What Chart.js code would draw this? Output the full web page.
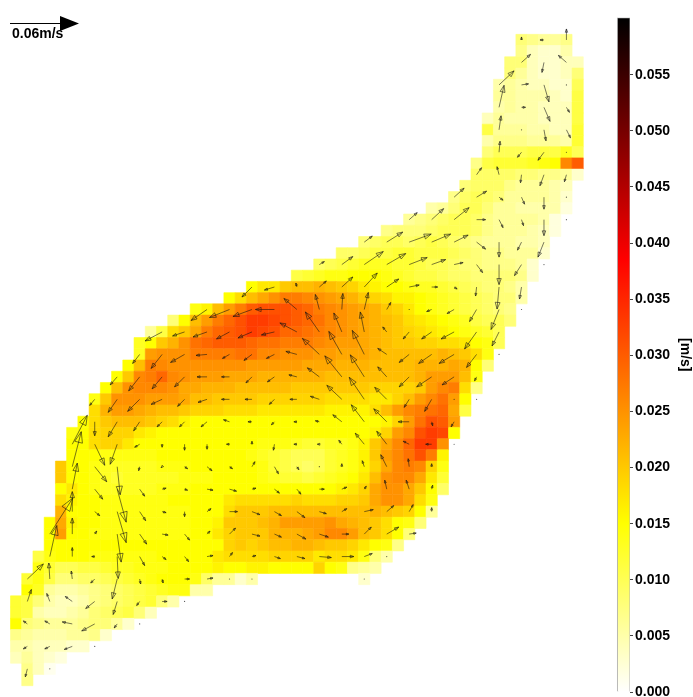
<!DOCTYPE html>
<html>
<head>
<meta charset="utf-8">
<title>Velocity field</title>
<script src="https://cdn.jsdelivr.net/npm/chart.js@4/dist/chart.umd.min.js"></script>
<style>
html, body { margin: 0; padding: 0; background: #fff; overflow: hidden; }
canvas { display: block; }
</style>
</head>
<body>
<canvas id="chart" width="693" height="697"></canvas>
<script>
// speed per grid cell in 0.001 m/s, rows listed top to bottom, null = no cell
let rowStart = [45,45,44,44,43,43,43,42,42,42,42,41,41,40,39,37,35,33,31,29,27,25,21,19,16,14,12,11,11,10,9,8,7,7,6,5,5,5,4,4,4,4,4,3,3,3,2,2,1,1,0,0,0,0,0,0,1,1]
let rowValues = [
    [8,7,6,6,7],
    [7,4,3,3,5],
    [8,8,4,3,3,4,4],
    [8,6,4,3,3,4,8],
    [5,6,5,4,4,3,3,10],
    [6,6,5,5,5,4,3,11],
    [5,6,5,5,4,4,4,11],
    [4,6,5,5,5,4,4,4,11],
    [11,6,6,6,5,5,4,4,12],
    [5,7,7,7,6,6,6,5,12],
    [8,10,10,10,11,11,11,13,10],
    [7,11,12,12,12,13,14,15,26,30],
    [9,9,9,9,8,8,7,7,6,3],
    [8,9,9,9,7,6,6,6,5,4],
    [7,9,10,9,8,6,6,6,6,5,3],
    [5,6,8,10,10,8,6,6,5,5,5,5,2],
    [6,7,8,9,10,10,9,7,6,6,6,6,5,2],
    [7,8,8,8,9,10,10,10,9,7,6,6,6,5,4,2],
    [8,9,10,10,9,10,11,10,9,8,7,6,6,6,5,5,4],
    [9,9,10,11,11,12,12,11,11,11,10,9,8,7,7,6,6,6,3],
    [9,10,11,12,13,13,13,12,12,11,10,10,9,8,8,7,7,7,6,3],
    [11,12,13,14,14,15,15,15,14,13,12,11,11,10,9,9,8,8,8,8,7,3],
    [15,17,17,20,21,21,22,21,20,19,17,16,15,15,14,13,13,12,11,10,9,8,8,7,5],
    [15,18,21,23,25,27,27,26,25,24,23,22,20,19,18,16,16,15,14,13,12,11,10,9,8,8,5],
    [14,16,21,24,27,30,31,31,31,30,29,27,26,25,24,23,22,20,19,17,15,14,13,12,11,10,9,8,7],
    [8,15,21,24,27,29,31,33,33,32,31,30,29,28,26,25,24,23,22,21,20,18,17,16,15,14,13,11,10,10,8],
    [6,11,18,20,23,27,29,30,31,33,32,31,29,29,28,27,26,25,24,23,22,21,20,19,18,17,16,15,14,13,12,10],
    [13,15,20,22,25,28,29,30,30,30,29,28,28,27,27,27,26,25,24,24,23,22,21,20,20,19,19,18,18,17,15,14,10],
    [13,24,25,25,25,27,27,27,27,28,28,26,26,25,25,25,24,24,23,23,23,22,21,21,21,21,21,22,21,20,18,14],
    [15,21,27,26,25,25,25,25,25,25,25,24,24,24,24,24,23,23,23,22,22,22,21,21,21,21,22,22,22,23,22,15,8],
    [15,20,26,27,29,26,25,24,24,24,23,23,23,22,22,22,22,22,22,21,21,21,21,21,21,21,21,22,24,24,24,21,14],
    [15,21,25,26,26,26,25,23,23,22,22,22,21,21,21,21,21,20,20,20,20,20,20,20,19,19,19,19,20,24,26,27,18,7],
    [14,20,25,25,25,24,24,24,23,21,21,20,20,20,20,19,19,19,19,19,19,18,18,18,18,17,17,19,21,24,26,28,24,15],
    [18,22,24,24,23,22,21,21,20,19,19,19,18,18,18,17,17,17,17,17,17,16,16,16,16,18,21,24,26,27,28,29,23,11],
    [15,18,20,21,21,21,20,19,18,16,15,15,15,15,15,15,15,15,15,15,15,15,15,15,15,15,15,16,19,24,28,31,30,24],
    [14,15,18,19,19,19,17,16,15,15,15,15,15,15,15,15,15,15,15,15,15,15,15,15,15,15,15,16,19,24,26,31,33,32,15],
    [15,15,18,19,19,17,15,15,15,15,15,15,15,15,15,15,15,14,14,14,13,12,12,13,13,14,16,20,23,26,29,33,33,25],
    [15,15,15,14,14,14,14,14,15,15,15,15,15,15,15,15,14,13,12,11,10,10,10,12,13,14,16,20,24,26,28,31,27,16],
    [20,15,15,14,13,13,13,13,13,14,14,14,15,15,15,15,15,15,14,12,11,10,9,10,12,13,14,16,19,23,26,27,26,19,14],
    [20,15,15,14,13,12,13,13,13,13,13,14,14,14,15,15,15,15,14,13,12,12,11,12,13,14,15,17,21,25,26,26,23,17,12],
    [15,17,15,14,13,13,13,13,13,14,14,14,15,15,15,15,15,15,15,15,15,15,15,15,15,16,17,19,23,25,25,23,20,15,9],
    [18,16,15,15,14,14,14,14,14,14,15,15,15,15,15,17,18,18,18,18,18,19,18,18,18,19,19,20,23,25,25,23,18,14],
    [22,15,15,15,14,14,14,14,14,14,14,14,15,15,15,18,20,20,20,21,21,21,21,21,21,21,21,21,22,21,20,19,15,6],
    [15,23,16,15,15,14,14,14,14,14,14,14,14,15,15,16,20,20,20,21,22,24,24,24,24,25,23,22,21,20,18,15,14,8],
    [15,24,15,15,14,14,14,14,14,14,14,14,14,15,15,17,19,20,20,20,22,22,22,23,24,26,26,24,21,20,18,15,8],
    [15,15,15,15,15,15,15,15,15,15,15,15,15,15,15,15,19,20,19,20,21,21,22,22,21,20,20,19,17,15,14,7],
    [11,14,15,15,15,14,14,14,14,14,14,15,15,15,15,15,17,18,18,18,18,19,19,19,19,17,18,18,17,14,8,5],
    [14,12,10,10,11,11,12,13,13,14,14,14,15,15,15,15,16,15,15,16,16,15,15,15,15,19,15,14,7,6,5],
    [12,14,11,8,8,9,9,10,11,12,13,14,15,15,15,14,9,6,6,3,5,null,null,null,null,null,null,null,null,null,3],
    [15,13,6,5,5,6,7,8,9,10,11,12,13,14,14,5,5],
    [12,11,8,5,4,4,5,7,8,9,10,11,12,8,5],
    [12,11,5,4,4,5,6,8,9,10,11,8,4],
    [15,8,7,6,6,6,7,8,8,6,3],
    [7,6,5,5,5,6,6,7,3],
    [5,5,4,4,4,3,3],
    [4,6,4,3,2],
    [7,4,1],
    [7]
]

// arrows: first node row, first node column, then [u, v] per node
// one unit is 1/1150 m/s, v points down the picture, null = no arrow
let arrowNodeRows = [0,1,2,3,4,5,6,7,8,9,10,11,12,13,14,15,16,17,18,19,20,21,22,23,24,25,26,27,28]
let arrowFirstCol = [0,0,0,0,0,1,1,2,2,2,2,3,3,4,5,6,8,10,13,15,17,19,20,21,21,21,21,22,22]
let arrowVectors = [
    [[-2,8],[0,0]],
    [[-4,2.5],[-5,2.5],[-8,3],[0,0]],
    [[-4,-3],[-5,-3],[-10,-2],[-13,7],[-3,4],[0,0]],
    [[4,-12],[-3,-8],[-7,-5],[-9,7],[-4,13],[-3,4],[5,0],[0,0]],
    [[16,-15],[-1,-16],[-1,-8],[-4,4],[-5,20],[1,5],[1,4],[5,0],[6,-1],[0,0],[0,0],null,null,null,null,[0,0]],
    [[7,-31],[0,-9],[-3,0],[1,22],[5,9],[4,3],[4,5],[6,-1],[3,-4],[4,-1],[6,2],[8,2],[12,1],[12,0],[8,-3],[0,0]],
    [[23,-36],[0,-16],[2,-3],[4,28],[7,10],[6,1],[5,6],[3,-3],[6,-6],[8,2],[7,3],[9,5],[9,3],[7,0],[7,-7],[12,-7],[7,-1]],
    [[0,-20],[5,4],[9,31],[6,9],[4,1],[0,5],[4,-3],[8,0],[8,3],[7,4],[8,6],[7,2],[5,-3],[9,-2],[7,-6],[4,-7],[0,-4]],
    [[5,-26],[8,10],[9,33],[5,7],[4,-1],[3,1],[6,1],[7,2],[4,-1],[5,4],[4,5],[5,0],[5,-2],[2,-3],[-2,-9],[-3,-9],[1,-4]],
    [[9,-35],[12,15],[3,28],[-1,4],[-1,1],[3,2],[5,4],[3,2],[3,-5],[4,7],[2,3],[0,0],[0,-3],[-2,-6],[-6,-12],[-1,-8],[0,-3]],
    [[15,-29],[10,21],[-7,20],[-5,3],[0,3],[0,6],[0,5],[-3,0],[0,-3],[-1,6],[-3,0],[-2,0],[-3,-4],[-9,-11],[-10,-13],[-6,-3],[-6,0],[0,0]],
    [[0,14],[-9,15],[-6,9],[-5,5],[-5,5],[-6,5],[-6,-2],[-4,0],[-3,3],[-3,0],[-4,-1],[-9,-7],[-13,-17],[-13,-13],[-11,0],[1,4],[-3,5]],
    [[-5,6],[-9,13],[-12,12],[-11,5],[-7,7],[-9,3],[-8,0],[-7,0],[-5,5],[-7,0],[-9,-3],[-15,-14],[-15,-22],[-12,-12],[-5,8],[-7,12],[0,0],[0,0]],
    [[-7,8],[-11,14],[-10,12],[-10,10],[-10,0],[-8,0],[-6,6],[-7,5],[-8,-2],[-12,-9],[-17,-21],[-14,-22],[-9,-10],[-10,10],[-15,10],[-12,8],[-2,4]],
    [[-7,9],[-11,14],[-14,8],[-11,1],[-7,4],[-8,6],[-8,4],[-11,-3],[-17,-16],[-13,-23],[-12,-24],[-9,-6],[-10,8],[-13,9],[-15,9],[-10,13],[0,0]],
    [[-17,9],[-12,4],[-14,5],[-13,7],[-14,6],[-13,3],[-17,-9],[-14,-20],[-8,-19],[-4,-20],[-4,-5],[-6,7],[-10,7],[-13,7],[-12,17],[-7,14]],
    [[-16,11],[-20,8],[-19,7],[-19,0],[-13,-11],[-4,-15],[1,-16],[4,-17],[4,-7],[0,0],[-5,2],[-7,4],[-7,12],[-8,20],[0,0]],
    [[-10,10],[-10,3],[-1,-4],[7,-6],[11,-10],[13,-14],[12,-8],[10,-2],[6,0],[3,2],[-1,9],[-2,22],[-2,12]],
    [[5,-3],[11,-8],[19,-13],[19,-11],[18,-7],[14,-5],[9,-2],[6,8],[0,20],[-7,11],[0,0]],
    [[8,-6],[16,-10],[22,-8],[19,-8],[14,-7],[9,7],[0,15],[-4,8],[-6,15]],
    [[8,-7],[12,-11],[15,-12],[9,0],[4,8],[2,6],[0,16],[0,0]],
    [[10,-9],[10,-6],[4,3],[3,7],[0,12],[0,0]],
    [[5,-7],[-2,-8],[-1,8],[-4,11],[-2,7]],
    [[1,-11],[-4,5],[-6,8],[0,0]],
    [[2,-14],[0,0],[2,11],[4,8]],
    [[5,-22],[4,0],[6,14],[3,5]],
    [[15,-14],[7,-1],[5,17],[0,0]],
    [[9,-8],[-2,10],[-8,-7]],
    [[0,-3],[-4,0],[0,-11]]
]

let colorStops = [0, 0.015, 0.0385, 0.06]
let colorNames = ['#ffffff', '#ffff00', '#ff0000', '#000000']
let colorRgb = [[255,255,255], [255,255,0], [255,0,0], [0,0,0]]
let barTicks = [0, 0.005, 0.01, 0.015, 0.02, 0.025, 0.03, 0.035, 0.04, 0.045, 0.05, 0.055]
let barTop = 0.0601
let barColumn = 54.1
let keyValue = 0.06
let keyLabel = '0.06m/s'
let unitsPerMs = 1150

function speedColor(v) {
    let i = 0
    while (i < colorStops.length - 2 && v > colorStops[i + 1]) i++
    let t = (v - colorStops[i]) / (colorStops[i + 1] - colorStops[i])
    let c = colorRgb[i].map((a, k) => Math.round(a + (colorRgb[i + 1][k] - a) * t))
    return 'rgb(' + c.join(',') + ')'
}

let cells = []
rowValues.forEach((vals, idx) => {
    vals.forEach((v, k) => {
        if (v !== null) cells.push({ x: rowStart[idx] + k, y: rowValues.length - 1 - idx, v: v / 1000 })
    })
})

function drawArrow(ctx, x0, y0, x1, y1) {
    let dx = x1 - x0, dy = y1 - y0
    let len = Math.hypot(dx, dy)
    if (len < 1) {
        ctx.beginPath()
        ctx.arc(x0, y0, 0.6, 0, Math.PI * 2)
        ctx.fill()
        return
    }
    let ux = dx / len, uy = dy / len
    let hl = Math.max(len * 0.3, 2.5), hw = Math.max(len * 0.11, 1)
    let bx = x1 - ux * hl, by = y1 - uy * hl
    ctx.beginPath()
    ctx.moveTo(x0, y0)
    ctx.lineTo(x1, y1)
    ctx.moveTo(bx - uy * hw, by + ux * hw)
    ctx.lineTo(x1, y1)
    ctx.lineTo(bx + uy * hw, by - ux * hw)
    ctx.closePath()
    ctx.stroke()
}

const vectorPlugin = {
    id: 'vectors',
    afterDatasetsDraw(chart) {
        let ctx = chart.ctx, sx = chart.scales.x, sy = chart.scales.y
        ctx.save()
        ctx.strokeStyle = 'rgba(20,20,20,0.72)'
        ctx.fillStyle = 'rgba(20,20,20,0.72)'
        ctx.lineWidth = 0.8
        arrowVectors.forEach((row, j) => {
            row.forEach((vec, k) => {
                if (!vec) return
                let px = sx.getPixelForValue(1 + 2 * (arrowFirstCol[j] + k))
                let py = sy.getPixelForValue(1 + 2 * arrowNodeRows[j])
                drawArrow(ctx, px, py, px + vec[0], py + vec[1])
            })
        })
        // scale key, top left
        let len = keyValue * unitsPerMs
        ctx.strokeStyle = '#000'
        ctx.fillStyle = '#000'
        ctx.lineWidth = 1
        ctx.beginPath()
        ctx.moveTo(10, 23.5)
        ctx.lineTo(10 + len - 19, 23.5)
        ctx.stroke()
        ctx.beginPath()
        ctx.moveTo(10 + len, 23.5)
        ctx.lineTo(10 + len - 19, 16)
        ctx.lineTo(10 + len - 19, 31)
        ctx.closePath()
        ctx.fill()
        ctx.font = 'bold 14px "Liberation Sans"'
        ctx.textBaseline = 'alphabetic'
        ctx.fillText(keyLabel, 12, 38)
        ctx.restore()
    }
}

new Chart(document.getElementById('chart'), {
    type: 'scatter',
    plugins: [vectorPlugin],
    data: {
        datasets: [{
                label: 'speed',
                data: cells,
                pointStyle: 'rect',
                pointRadius: 7.94,
                pointHoverRadius: 7.94,
                pointBackgroundColor: (c) => c.raw ? speedColor(c.raw.v) : '#fff',
                pointBorderColor: (c) => c.raw ? speedColor(c.raw.v) : '#fff',
                pointBorderWidth: 0.6
            },
            {
                type: 'bar',
                label: 'colour bar',
                yAxisID: 'bar',
                data: [{ x: barColumn, y: [0, barTop] }],
                barThickness: 13,
                borderWidth: 1,
                borderColor: '#b0b0b0',
                backgroundColor: (c) => {
                    let s = c.chart.scales.bar
                    let y0 = s ? s.getPixelForValue(0) : NaN
                    let y1 = s ? s.getPixelForValue(barTop) : NaN
                    if (!isFinite(y0) || !isFinite(y1)) return '#fff'
                    let g = c.chart.ctx.createLinearGradient(0, y0, 0, y1)
                    colorStops.forEach((v, i) => g.addColorStop(v / barTop, colorNames[i]))
                    return g
                }
            }
        ]
    },
    options: {
        responsive: false,
        animation: false,
        layout: { autoPadding: false, padding: { top: 17.5, bottom: 5, left: 0, right: 0 } },
        plugins: { legend: { display: false }, tooltip: { enabled: false } },
        scales: {
            x: { type: 'linear', display: false, offset: false, min: -1.435, max: 54.66 },
            y: { type: 'linear', display: false, min: -1.061, max: 59.0 },
            bar: {
                type: 'linear',
                position: 'right',
                min: 0,
                max: barTop,
                afterBuildTicks: (s) => { s.ticks = barTicks.map((v) => ({ value: v })) },
                afterFit: (s) => { s.width = 63; s.paddingTop = 0; s.paddingBottom = 0 },
                grid: { drawOnChartArea: false, tickLength: 3, tickColor: '#444', tickWidth: 1 },
                border: { display: false },
                ticks: {
                    color: '#000',
                    padding: 2,
                    autoSkip: false,
                    font: { family: 'Liberation Sans', size: 14, weight: 'bold' },
                    callback: (v) => v.toFixed(3)
                },
                title: {
                    display: true,
                    text: '[m/s]',
                    color: '#000',
                    padding: 0,
                    font: { family: 'Liberation Sans', size: 14, weight: 'bold' }
                }
            }
        }
    }
})
</script>
</body>
</html>
